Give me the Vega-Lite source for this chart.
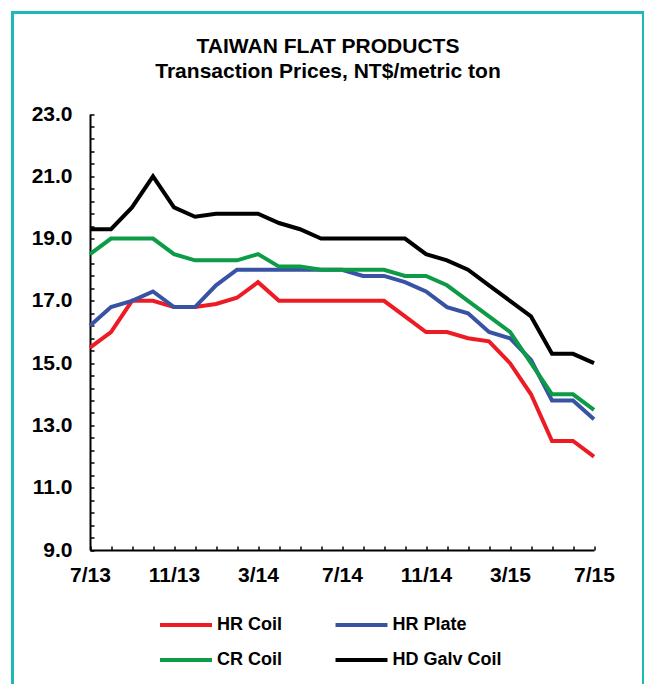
{
  "$schema": "https://vega.github.io/schema/vega-lite/v6.json",
  "width": 631,
  "height": 676,
  "autosize": {"type": "none"},
  "padding": {"left": 12.5, "top": 12.5, "right": 0, "bottom": 0},
  "background": "white",
  "config": {
    "view": {"stroke": "#1DBAB5", "strokeWidth": 3},
    "font": "Liberation Sans"
  },
  "title": {
    "text": ["TAIWAN FLAT PRODUCTS", "Transaction Prices, NT$/metric ton"],
    "fontSize": 21,
    "fontWeight": "bold",
    "font": "Liberation Sans",
    "color": "black",
    "anchor": "middle",
    "frame": "group",
    "lineHeight": 25,
    "offset": -69
  },
  "data": {
    "values": [
      {"month": "7/13", "series": "HR Coil", "price": 15.5},
      {"month": "8/13", "series": "HR Coil", "price": 16.0},
      {"month": "9/13", "series": "HR Coil", "price": 17.0},
      {"month": "10/13", "series": "HR Coil", "price": 17.0},
      {"month": "11/13", "series": "HR Coil", "price": 16.8},
      {"month": "12/13", "series": "HR Coil", "price": 16.8},
      {"month": "1/14", "series": "HR Coil", "price": 16.9},
      {"month": "2/14", "series": "HR Coil", "price": 17.1},
      {"month": "3/14", "series": "HR Coil", "price": 17.6},
      {"month": "4/14", "series": "HR Coil", "price": 17.0},
      {"month": "5/14", "series": "HR Coil", "price": 17.0},
      {"month": "6/14", "series": "HR Coil", "price": 17.0},
      {"month": "7/14", "series": "HR Coil", "price": 17.0},
      {"month": "8/14", "series": "HR Coil", "price": 17.0},
      {"month": "9/14", "series": "HR Coil", "price": 17.0},
      {"month": "10/14", "series": "HR Coil", "price": 16.5},
      {"month": "11/14", "series": "HR Coil", "price": 16.0},
      {"month": "12/14", "series": "HR Coil", "price": 16.0},
      {"month": "1/15", "series": "HR Coil", "price": 15.8},
      {"month": "2/15", "series": "HR Coil", "price": 15.7},
      {"month": "3/15", "series": "HR Coil", "price": 15.0},
      {"month": "4/15", "series": "HR Coil", "price": 14.0},
      {"month": "5/15", "series": "HR Coil", "price": 12.5},
      {"month": "6/15", "series": "HR Coil", "price": 12.5},
      {"month": "7/15", "series": "HR Coil", "price": 12.0},
      {"month": "7/13", "series": "HR Plate", "price": 16.2},
      {"month": "8/13", "series": "HR Plate", "price": 16.8},
      {"month": "9/13", "series": "HR Plate", "price": 17.0},
      {"month": "10/13", "series": "HR Plate", "price": 17.3},
      {"month": "11/13", "series": "HR Plate", "price": 16.8},
      {"month": "12/13", "series": "HR Plate", "price": 16.8},
      {"month": "1/14", "series": "HR Plate", "price": 17.5},
      {"month": "2/14", "series": "HR Plate", "price": 18.0},
      {"month": "3/14", "series": "HR Plate", "price": 18.0},
      {"month": "4/14", "series": "HR Plate", "price": 18.0},
      {"month": "5/14", "series": "HR Plate", "price": 18.0},
      {"month": "6/14", "series": "HR Plate", "price": 18.0},
      {"month": "7/14", "series": "HR Plate", "price": 18.0},
      {"month": "8/14", "series": "HR Plate", "price": 17.8},
      {"month": "9/14", "series": "HR Plate", "price": 17.8},
      {"month": "10/14", "series": "HR Plate", "price": 17.6},
      {"month": "11/14", "series": "HR Plate", "price": 17.3},
      {"month": "12/14", "series": "HR Plate", "price": 16.8},
      {"month": "1/15", "series": "HR Plate", "price": 16.6},
      {"month": "2/15", "series": "HR Plate", "price": 16.0},
      {"month": "3/15", "series": "HR Plate", "price": 15.8},
      {"month": "4/15", "series": "HR Plate", "price": 15.1},
      {"month": "5/15", "series": "HR Plate", "price": 13.8},
      {"month": "6/15", "series": "HR Plate", "price": 13.8},
      {"month": "7/15", "series": "HR Plate", "price": 13.2},
      {"month": "7/13", "series": "CR Coil", "price": 18.5},
      {"month": "8/13", "series": "CR Coil", "price": 19.0},
      {"month": "9/13", "series": "CR Coil", "price": 19.0},
      {"month": "10/13", "series": "CR Coil", "price": 19.0},
      {"month": "11/13", "series": "CR Coil", "price": 18.5},
      {"month": "12/13", "series": "CR Coil", "price": 18.3},
      {"month": "1/14", "series": "CR Coil", "price": 18.3},
      {"month": "2/14", "series": "CR Coil", "price": 18.3},
      {"month": "3/14", "series": "CR Coil", "price": 18.5},
      {"month": "4/14", "series": "CR Coil", "price": 18.1},
      {"month": "5/14", "series": "CR Coil", "price": 18.1},
      {"month": "6/14", "series": "CR Coil", "price": 18.0},
      {"month": "7/14", "series": "CR Coil", "price": 18.0},
      {"month": "8/14", "series": "CR Coil", "price": 18.0},
      {"month": "9/14", "series": "CR Coil", "price": 18.0},
      {"month": "10/14", "series": "CR Coil", "price": 17.8},
      {"month": "11/14", "series": "CR Coil", "price": 17.8},
      {"month": "12/14", "series": "CR Coil", "price": 17.5},
      {"month": "1/15", "series": "CR Coil", "price": 17.0},
      {"month": "2/15", "series": "CR Coil", "price": 16.5},
      {"month": "3/15", "series": "CR Coil", "price": 16.0},
      {"month": "4/15", "series": "CR Coil", "price": 15.0},
      {"month": "5/15", "series": "CR Coil", "price": 14.0},
      {"month": "6/15", "series": "CR Coil", "price": 14.0},
      {"month": "7/15", "series": "CR Coil", "price": 13.5},
      {"month": "7/13", "series": "HD Galv Coil", "price": 19.3},
      {"month": "8/13", "series": "HD Galv Coil", "price": 19.3},
      {"month": "9/13", "series": "HD Galv Coil", "price": 20.0},
      {"month": "10/13", "series": "HD Galv Coil", "price": 21.0},
      {"month": "11/13", "series": "HD Galv Coil", "price": 20.0},
      {"month": "12/13", "series": "HD Galv Coil", "price": 19.7},
      {"month": "1/14", "series": "HD Galv Coil", "price": 19.8},
      {"month": "2/14", "series": "HD Galv Coil", "price": 19.8},
      {"month": "3/14", "series": "HD Galv Coil", "price": 19.8},
      {"month": "4/14", "series": "HD Galv Coil", "price": 19.5},
      {"month": "5/14", "series": "HD Galv Coil", "price": 19.3},
      {"month": "6/14", "series": "HD Galv Coil", "price": 19.0},
      {"month": "7/14", "series": "HD Galv Coil", "price": 19.0},
      {"month": "8/14", "series": "HD Galv Coil", "price": 19.0},
      {"month": "9/14", "series": "HD Galv Coil", "price": 19.0},
      {"month": "10/14", "series": "HD Galv Coil", "price": 19.0},
      {"month": "11/14", "series": "HD Galv Coil", "price": 18.5},
      {"month": "12/14", "series": "HD Galv Coil", "price": 18.3},
      {"month": "1/15", "series": "HD Galv Coil", "price": 18.0},
      {"month": "2/15", "series": "HD Galv Coil", "price": 17.5},
      {"month": "3/15", "series": "HD Galv Coil", "price": 17.0},
      {"month": "4/15", "series": "HD Galv Coil", "price": 16.5},
      {"month": "5/15", "series": "HD Galv Coil", "price": 15.3},
      {"month": "6/15", "series": "HD Galv Coil", "price": 15.3},
      {"month": "7/15", "series": "HD Galv Coil", "price": 15.0}
    ]
  },
  "mark": {"type": "line", "strokeWidth": 4},
  "encoding": {
    "x": {
      "field": "month",
      "type": "ordinal",
      "scale": {
        "type": "point",
        "padding": 0,
        "range": [77.5, 581.5],
        "domain": ["7/13", "8/13", "9/13", "10/13", "11/13", "12/13", "1/14", "2/14", "3/14", "4/14", "5/14", "6/14", "7/14", "8/14", "9/14", "10/14", "11/14", "12/14", "1/15", "2/15", "3/15", "4/15", "5/15", "6/15", "7/15"]
      },
      "axis": {
        "title": null,
        "orient": "bottom",
        "offset": -138.5,
        "grid": false,
        "domainColor": "black",
        "domainWidth": 2,
        "tickColor": "black",
        "tickWidth": 1.5,
        "tickSize": -4,
        "labelAngle": 0,
        "labelFont": "Liberation Sans",
        "labelFontSize": 21,
        "labelFontWeight": "bold",
        "labelColor": "black",
        "labelPadding": 18,
        "labelOverlap": false,
        "labelExpr": "indexof(['7/13','11/13','3/14','7/14','11/14','3/15','7/15'], datum.value) >= 0 ? datum.value : ''"
      }
    },
    "y": {
      "field": "price",
      "type": "quantitative",
      "scale": {"domain": [9, 23], "range": [537.5, 101.5], "nice": false, "zero": false},
      "axis": {
        "title": null,
        "orient": "left",
        "offset": -77.5,
        "grid": false,
        "values": [9, 9.4, 9.8, 10.2, 10.6, 11, 11.4, 11.8, 12.2, 12.6, 13, 13.4, 13.8, 14.2, 14.6, 15, 15.4, 15.8, 16.2, 16.6, 17, 17.4, 17.8, 18.2, 18.6, 19, 19.4, 19.8, 20.2, 20.6, 21, 21.4, 21.8, 22.2, 22.6, 23],
        "domainColor": "black",
        "domainWidth": 2,
        "tickColor": "black",
        "tickWidth": 1.5,
        "tickSize": -4,
        "labelFont": "Liberation Sans",
        "labelFontSize": 21,
        "labelFontWeight": "bold",
        "labelColor": "black",
        "labelPadding": 22,
        "labelOverlap": false,
        "labelExpr": "datum.value % 2 == 1 ? format(datum.value, '.1f') : ''"
      }
    },
    "color": {
      "field": "series",
      "type": "nominal",
      "scale": {
        "domain": ["HR Coil", "CR Coil", "HR Plate", "HD Galv Coil"],
        "range": ["#ED1C24", "#0D9B48", "#3953A4", "#000000"]
      },
      "legend": {
        "title": null,
        "orient": "none",
        "legendX": 162.5,
        "legendY": 601.5,
        "columns": 2,
        "padding": 0,
        "symbolType": "M-3,0H3",
        "symbolSize": 300,
        "symbolStrokeWidth": 4,
        "labelOffset": 20,
        "columnPadding": 45.5,
        "rowPadding": 15,
        "labelFont": "Liberation Sans",
        "labelFontSize": 18,
        "labelFontWeight": "bold",
        "labelColor": "black"
      }
    }
  }
}
